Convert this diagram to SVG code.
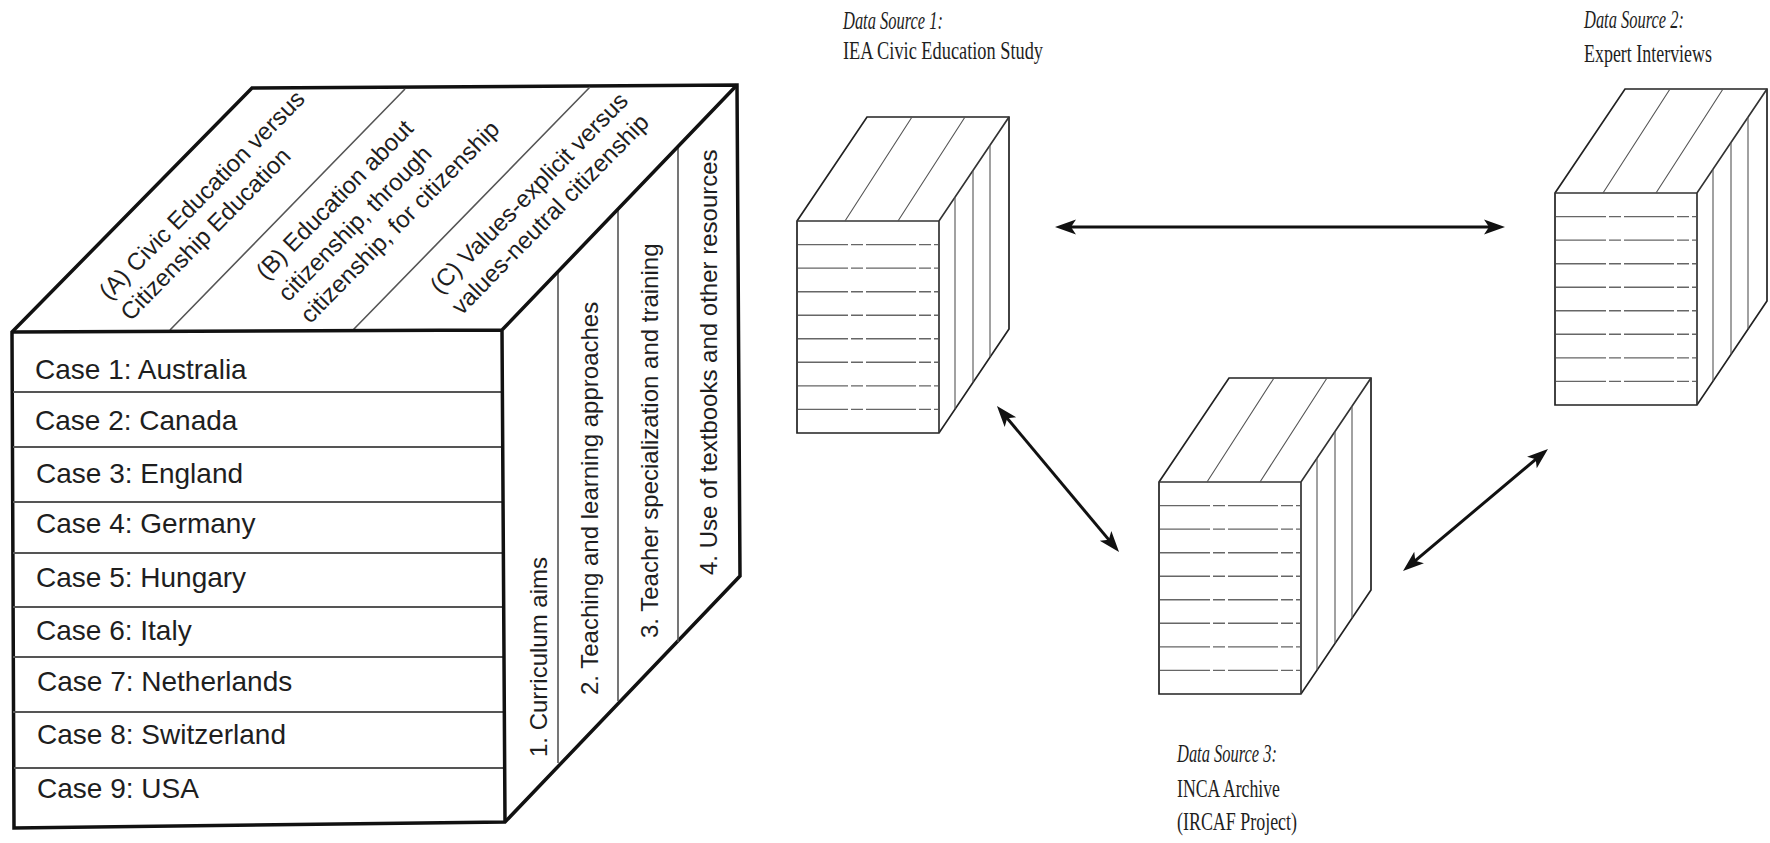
<svg xmlns="http://www.w3.org/2000/svg" xmlns:xlink="http://www.w3.org/1999/xlink" width="1770" height="843" viewBox="0 0 1770 843">
<style>
.edge{fill:#fff;stroke:#111;stroke-width:3.5;stroke-linejoin:miter}
.inner{fill:none;stroke:#111;stroke-width:3.5}
.div{fill:none;stroke:#555;stroke-width:1.6}
.row{fill:none;stroke:#555;stroke-width:2.2}
.sans{font-family:"Liberation Sans",Arial,sans-serif;fill:#1e1e1e}
.case{font-size:28px}
.lab{font-size:24px}
.serif{font-family:"Liberation Serif","Times New Roman",serif;fill:#1e1e1e;font-size:25px}
.it{font-style:italic}
.dcEdge{fill:#fff;stroke:#222;stroke-width:1.7;stroke-linejoin:miter}
.dcIn{fill:none;stroke:#333;stroke-width:1.7}
.dcDiv{fill:none;stroke:#555;stroke-width:1.1}
.dcRow{fill:none;stroke:#666;stroke-width:1.4;stroke-dasharray:50 3 12 3}
.conn{fill:none;stroke:#111;stroke-width:3}
</style>
<defs>
<marker id="ah" viewBox="-22 -10 24 20" refX="-6" refY="0" markerWidth="24" markerHeight="20" markerUnits="userSpaceOnUse" orient="auto-start-reverse">
<path d="M0,0 L-21,-7.5 L-16,0 L-21,7.5 Z" fill="#111"/>
</marker>
<g id="dataCube">
<path class="dcEdge" d="M0,0 L70,-104 L212,-104 L212,108 L142,212 L0,212 Z"/>
<path class="dcIn" d="M0,0 L142,0 L212,-104 M142,0 L142,212"/>
<path class="dcDiv" d="M48,0 L115,-104 M101,0 L168,-104 M158,-23.8 L158,188.2 M176,-50.5 L176,161.5 M193,-75.8 L193,136.2"/>
<path class="dcRow" d="M1,23.6 H141 M1,47.1 H141 M1,70.7 H141 M1,94.2 H141 M1,117.8 H141 M1,141.3 H141 M1,164.9 H141 M1,188.4 H141"/>
</g>
</defs>
<rect width="1770" height="843" fill="#fff"/>

<g id="bigCube">
<path class="edge" d="M12,332 L252,88 L737,85 L740,576 L505,822 L14,828 Z"/>
<path class="div" d="M170,330 L405,89 M353,330 L590,87"/>
<path class="div" d="M558,272 L558,763 M618,209 L618,701 M678,146 L678,642"/>
<path class="row" d="M13,392 H503 M13,447 H503 M13,502 H503 M13,553 H503 M13,607 H504 M13,657 H504 M13,712 H504 M14,768 H504"/>
<path class="inner" d="M12,332 L502,330 L737,85 M502,330 L505,822"/>
<g class="sans lab">
<text transform="translate(109,301) rotate(-45.5)"><tspan x="0" y="0">(A) Civic Education versus</tspan><tspan x="0" y="30">Citizenship Education</tspan></text>
<text transform="translate(266,281) rotate(-45.5)"><tspan x="0" y="0">(B) Education about</tspan><tspan x="0" y="31">citizenship,  through</tspan><tspan x="0" y="62">citizenship, for citizenship</tspan></text>
<text transform="translate(440,295) rotate(-45.5)"><tspan x="0" y="0">(C) Values-explicit versus</tspan><tspan x="0" y="30">values-neutral citizenship</tspan></text>
<text transform="translate(547,757) rotate(-90)">1. Curriculum aims</text>
<text transform="translate(598,695) rotate(-90)">2. Teaching and learning approaches</text>
<text transform="translate(658,638) rotate(-90)">3. Teacher specialization and training</text>
<text transform="translate(717,575) rotate(-90)">4. Use of textbooks and other resources</text>
</g>
<g class="sans case">
<text x="35" y="379">Case 1: Australia</text>
<text x="35" y="430">Case 2: Canada</text>
<text x="36" y="483">Case 3: England</text>
<text x="36" y="533">Case 4: Germany</text>
<text x="36" y="587">Case 5: Hungary</text>
<text x="36" y="640">Case 6: Italy</text>
<text x="37" y="691">Case 7: Netherlands</text>
<text x="37" y="744">Case 8: Switzerland</text>
<text x="37" y="798">Case 9: USA</text>
</g>
</g>

<g id="source1">
<use xlink:href="#dataCube" href="#dataCube" transform="translate(797,221)"/>
<text class="serif it" x="843" y="29" textLength="100" lengthAdjust="spacingAndGlyphs">Data Source 1:</text>
<text class="serif" x="843" y="59" textLength="200" lengthAdjust="spacingAndGlyphs">IEA Civic Education Study</text>
</g>

<g id="source2">
<use xlink:href="#dataCube" href="#dataCube" transform="translate(1555,193)"/>
<text class="serif it" x="1584" y="28" textLength="100" lengthAdjust="spacingAndGlyphs">Data Source 2:</text>
<text class="serif" x="1584" y="62" textLength="128" lengthAdjust="spacingAndGlyphs">Expert Interviews</text>
</g>

<g id="source3">
<use xlink:href="#dataCube" href="#dataCube" transform="translate(1159,482)"/>
<text class="serif it" x="1177" y="762" textLength="100" lengthAdjust="spacingAndGlyphs">Data Source 3:</text>
<text class="serif" x="1177" y="797" textLength="103" lengthAdjust="spacingAndGlyphs">INCA Archive</text>
<text class="serif" x="1177" y="830" textLength="120" lengthAdjust="spacingAndGlyphs">(IRCAF Project)</text>
</g>

<g id="connectors">
<path class="conn" d="M1061,227 L1499,227" marker-start="url(#ah)" marker-end="url(#ah)"/>
<path class="conn" d="M1000.8,410.6 L1115.2,547.4" marker-start="url(#ah)" marker-end="url(#ah)"/>
<path class="conn" d="M1407.6,567.1 L1543.4,452.9" marker-start="url(#ah)" marker-end="url(#ah)"/>
</g>
</svg>
